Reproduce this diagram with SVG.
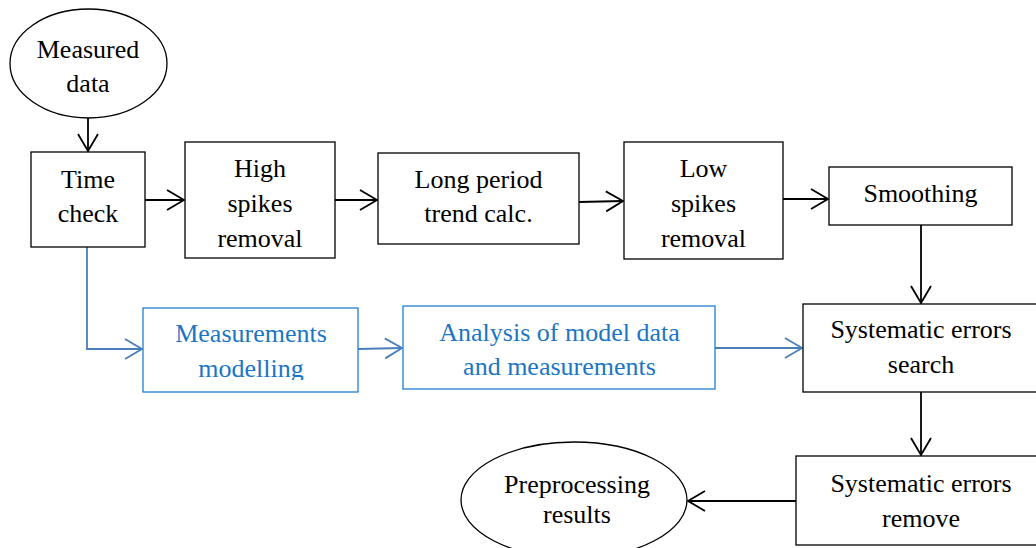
<svg xmlns="http://www.w3.org/2000/svg" width="1036" height="548" viewBox="0 0 1036 548">
<style>
.box{fill:#fff;stroke:#000;stroke-width:1.3}
.bbox{fill:#fff;stroke:#1f7fd0;stroke-width:1.3}
.t{font-family:"Liberation Serif","Times New Roman",serif;font-size:26px;fill:#000;text-anchor:middle}
.bt{font-family:"Liberation Serif","Times New Roman",serif;font-size:26px;fill:#1a76c4;text-anchor:middle}
.c{fill:none;stroke:#000;stroke-width:1.8}
.bc{fill:none;stroke:#4a7ebb;stroke-width:1.8}
</style>
<defs>
<marker id="ah" markerUnits="userSpaceOnUse" markerWidth="24" markerHeight="24" viewBox="-20 -12 24 24" refX="0" refY="0" orient="auto">
<path d="M-17,-10 L0,0 L-17,10" fill="none" stroke="#000" stroke-width="1.8"/>
</marker>
<marker id="bah" markerUnits="userSpaceOnUse" markerWidth="24" markerHeight="24" viewBox="-20 -12 24 24" refX="0" refY="0" orient="auto">
<path d="M-17,-10 L0,0 L-17,10" fill="none" stroke="#4a7ebb" stroke-width="1.8"/>
</marker>
<clipPath id="mmclip"><rect x="143" y="308" width="215" height="72"/></clipPath>
</defs>
<g id="connectors">
<path class="c" d="M88,118 L88,151" marker-end="url(#ah)"/>
<path class="c" d="M145,200 L184,200" marker-end="url(#ah)"/>
<path class="c" d="M335,200 L377,200" marker-end="url(#ah)"/>
<path class="c" d="M579,202 L623,201" marker-end="url(#ah)"/>
<path class="c" d="M783,199 L828,199" marker-end="url(#ah)"/>
<path class="c" d="M921,225 L921,303" marker-end="url(#ah)"/>
<path class="c" d="M921,392 L921,455" marker-end="url(#ah)"/>
<path class="c" d="M796,501 L688,501" marker-end="url(#ah)"/>
<path class="bc" d="M87,247 L87,349 L142,349" marker-end="url(#bah)"/>
<path class="bc" d="M358,349 L402,348" marker-end="url(#bah)"/>
<path class="bc" d="M715,348 L802,348" marker-end="url(#bah)"/>
</g>
<g id="measured-data">
<ellipse cx="88.5" cy="63.5" rx="78.5" ry="54.5" fill="#fff" stroke="#000" stroke-width="1.3"/>
<text class="t" x="88" y="58">Measured</text>
<text class="t" x="88" y="92">data</text>
</g>
<g id="time-check">
<rect class="box" x="31" y="152" width="114" height="95"/>
<text class="t" x="88" y="188">Time</text>
<text class="t" x="88" y="222">check</text>
</g>
<g id="high-spikes">
<rect class="box" x="185" y="142" width="150" height="116"/>
<text class="t" x="260" y="177">High</text>
<text class="t" x="260" y="212">spikes</text>
<text class="t" x="260" y="247">removal</text>
</g>
<g id="long-period">
<rect class="box" x="378" y="153" width="201" height="91"/>
<text class="t" x="478.5" y="188">Long period</text>
<text class="t" x="478.5" y="222">trend calc.</text>
</g>
<g id="low-spikes">
<rect class="box" x="624" y="142" width="159" height="117"/>
<text class="t" x="703.5" y="177">Low</text>
<text class="t" x="703.5" y="212">spikes</text>
<text class="t" x="703.5" y="247">removal</text>
</g>
<g id="smoothing">
<rect class="box" x="829" y="167" width="183" height="58"/>
<text class="t" x="920.5" y="202">Smoothing</text>
</g>
<g id="measurements-modelling">
<rect class="bbox" x="143" y="308" width="215" height="84"/>
<text class="bt" x="251" y="342">Measurements</text>
<text class="bt" x="251" y="377" clip-path="url(#mmclip)">modelling</text>
</g>
<g id="analysis">
<rect class="bbox" x="403" y="306" width="312" height="83"/>
<text class="bt" x="559.5" y="341">Analysis of model data</text>
<text class="bt" x="559.5" y="375">and measurements</text>
</g>
<g id="systematic-search">
<rect class="box" x="803" y="304" width="236" height="88"/>
<text class="t" x="921" y="338">Systematic errors</text>
<text class="t" x="921" y="373">search</text>
</g>
<g id="systematic-remove">
<rect class="box" x="796" y="456" width="246" height="89"/>
<text class="t" x="921" y="492">Systematic errors</text>
<text class="t" x="921" y="527">remove</text>
</g>
<g id="preprocessing-results">
<ellipse cx="574" cy="500" rx="113" ry="58" fill="#fff" stroke="#000" stroke-width="1.3"/>
<text class="t" x="577" y="493">Preprocessing</text>
<text class="t" x="577" y="523">results</text>
</g>
</svg>
